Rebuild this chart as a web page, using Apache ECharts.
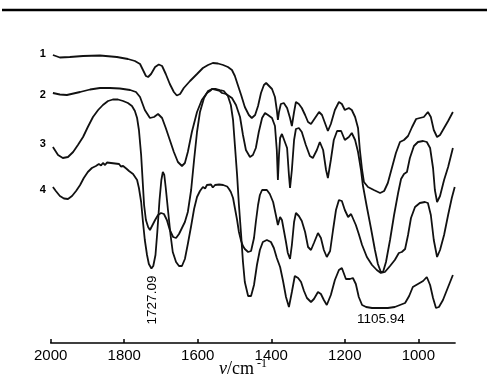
<!DOCTYPE html>
<html><head><meta charset="utf-8">
<script src="https://cdn.jsdelivr.net/npm/echarts@6/dist/echarts.min.js"></script>
<style>html,body{margin:0;padding:0;background:#fff}#c{width:492px;height:386px}</style>
</head><body><div id="c"></div>
<script>
const xTicks = [2000, 1800, 1600, 1400, 1200, 1000];
const seriesNames = ['1', '2', '3', '4'];

const curve1Wn = [1994,1975,1948,1912,1866,1820,1790,1771,1757,1749,1741,1735,1727,1716,1706,1697,1687,1676,1665,1657,1648,1638,1621,1602,1586,1572,1559,1545,1531,1518,1507,1499,1491,1482,1472,1461,1453,1444,1436,1428,1420,1414,1406,1398,1390,1385,1382,1379,1374,1366,1357,1349,1344,1338,1333,1325,1317,1308,1300,1292,1281,1270,1262,1254,1246,1238,1227,1216,1208,1200,1189,1181,1172,1164,1159,1153,1148,1137,1121,1104,1093,1083,1072,1061,1050,1039,1028,1017,1006,996,985,974,966,958,949,941,930,919,906];
const curve1T = [55,57.5,57,56,55.5,57,59,61,64,70,76,77,74,67,64.5,66,74,84,92,95.5,94,88,81,74,68,65,63,63.5,65,67,70,76,85,95,107,115,118,115,106,93,85,83,86,89,97,110,120,112,104,103,108,118,126,112,102,104,108,115,122,124,118,112,115,123,131,124,110,102,104,110,108,110,117,128,150,170,182,187,190,193,191,183,168,153,142,140,136,127,119,118,117,112,117,130,137,135,128,121,112];

const curve2Wn = [1994,1975,1956,1920,1893,1866,1839,1812,1784,1768,1757,1744,1730,1719,1708,1697,1687,1676,1665,1654,1643,1635,1627,1616,1602,1589,1575,1567,1561,1556,1550,1545,1540,1534,1529,1523,1518,1507,1496,1485,1477,1469,1458,1450,1442,1434,1425,1417,1409,1398,1390,1385,1382,1379,1376,1371,1366,1357,1352,1349,1344,1338,1333,1325,1317,1306,1295,1287,1276,1268,1259,1251,1246,1238,1230,1221,1210,1200,1189,1181,1172,1164,1156,1151,1140,1129,1118,1110,1102,1096,1088,1077,1066,1055,1047,1039,1031,1023,1012,1001,987,977,968,960,955,949,941,930,919,906];
const curve2T = [93,94.5,95,92,89.5,88,88,88.5,90,92,97,110,118,117,114,118,128,140,152,162,166,163,152,132,112,100,93,91,89,91,90,92,91,93,92,94,95,98,105,117,135,150,157,155,148,132,118,113,115,118,126,150,180,155,138,134,135,148,175,188,170,140,129,128,132,145,156,158,150,142,150,170,178,160,140,131,131,140,137,133,140,152,170,185,207,228,250,264,272,272,262,240,215,193,179,174,172,158,146,142,141,142,148,168,190,202,196,180,167,148];

const curve3Wn = [1994,1980,1967,1953,1939,1926,1912,1899,1885,1871,1858,1844,1831,1817,1803,1790,1779,1771,1765,1760,1754,1750,1746,1741,1735,1730,1725,1716,1708,1700,1692,1684,1676,1667,1659,1651,1643,1635,1627,1618,1610,1602,1594,1583,1572,1561,1550,1540,1529,1518,1510,1504,1499,1493,1488,1482,1477,1472,1463,1455,1447,1439,1431,1423,1412,1401,1393,1385,1376,1368,1360,1352,1344,1336,1327,1319,1311,1303,1292,1284,1273,1265,1257,1249,1238,1227,1216,1208,1197,1186,1178,1170,1162,1153,1142,1126,1104,1083,1064,1050,1036,1025,1015,1001,987,977,968,960,952,944,933,919,906];
const curve3T = [147,155,158,157,152,145,137,127,117,110,105,101,99.5,99.5,101,103,106,111,118,130,155,180,205,220,227,230,228,220,215,213,214,220,230,237,238,234,228,222,212,190,160,132,112,98,91,89,89,90,91,96,105,120,145,175,205,235,262,282,296,296,285,265,250,242,240,242,248,258,267,281,297,307,292,276,278,282,291,298,302,299,292,294,300,305,295,280,270,268,279,279,278,284,297,305,307,308,308,308,307,305,303,296,287,284,281,277,285,298,308,307,300,287,275];

const curve4Wn = [1994,1986,1975,1964,1953,1942,1931,1920,1910,1899,1888,1877,1869,1863,1858,1852,1847,1842,1836,1831,1825,1820,1814,1809,1803,1798,1793,1787,1782,1776,1771,1765,1760,1754,1749,1744,1738,1733,1726,1721,1715,1710,1704,1699,1695,1691,1687,1681,1674,1668,1659,1651,1643,1635,1627,1618,1610,1602,1594,1586,1580,1575,1570,1564,1559,1553,1548,1542,1537,1531,1526,1520,1515,1510,1504,1499,1493,1488,1482,1477,1472,1463,1455,1447,1442,1436,1431,1425,1420,1412,1404,1395,1387,1382,1376,1371,1366,1360,1355,1349,1344,1338,1333,1325,1317,1308,1300,1292,1284,1273,1265,1257,1249,1240,1232,1224,1216,1208,1200,1191,1183,1178,1170,1162,1153,1140,1126,1113,1102,1091,1077,1064,1053,1045,1036,1028,1020,1009,996,982,974,966,958,949,941,930,919,909,901];
const curve4T = [187,191,196,198.5,199,196,191,185,178,172,168,166,164,165.5,163,165,162.5,164.5,163,165,163.5,165.5,164,166.5,166,168,169,171,172,174,176,180,188,202,222,240,255,264,268.5,266,255,232,200,180,172,175,188,210,235,252,262,266,266,259,244,226,209,197,191,187,188.5,185,187,184.5,187.5,185,187,184.5,186.5,185,187,186.5,189,192,198,208,220,232,241,246,249,252,251,238,222,205,195,190,188,190,194,202,216,225,217,220,230,242,253,259,245,222,213,216,221,232,247,250,243,233,238,250,257,251,230,210,200,201,210,217,214,216,225,234,245,257,265,270,273,272,266,260,253,252,249,235,218,207,203,202,203,215,240,257,250,235,215,198,187];

const peakLabels = [
  {series: 3, text: '1727.09', wn: 1727.09, t: 297, rotate: 90, off: [-3, 1.5]},
  {series: 2, text: '1105.94', wn: 1105.94, t: 318, rotate: 0, off: [1.5, 1]}
];

const wnSets = [curve1Wn, curve2Wn, curve3Wn, curve4Wn];
const tSets = [curve1T, curve2T, curve3T, curve4T];
const nameOffsets = [[0,-1],[0,2],[0,-3],[0,3]];

const series = wnSets.map((wn, i) => {
  const data = wn.map((w, j) => [w, tSets[i][j]]);
  const mp = [{
    coord: data[0],
    label: {show: true, formatter: seriesNames[i], position: 'left', distance: 7,
      offset: nameOffsets[i], fontSize: 11, fontWeight: 'bold', color: '#000', fontFamily: 'Liberation Sans'}
  }];
  peakLabels.filter(p => p.series === i).forEach(p => {
    mp.push({coord: [p.wn, p.t], label: {show: true, formatter: p.text, position: 'inside',
      rotate: p.rotate, offset: p.off, fontSize: 13.5, color: '#000', fontFamily: 'Liberation Sans'}});
  });
  return {
    type: 'line', data, symbol: 'none', smooth: false,
    lineStyle: {color: '#111', width: 1.8},
    markPoint: {symbol: 'circle', symbolSize: 0, silent: true, data: mp},
    z: 2
  };
});

const chart = echarts.init(document.getElementById('c'), null, {renderer: 'canvas'});
chart.setOption({
  animation: false,
  backgroundColor: '#fff',
  grid: {left: 50.7, right: 36.9, top: 40, bottom: 43},
  xAxis: {
    type: 'value', min: 900, max: 2000, inverse: true,
    axisLine: {onZero: false, lineStyle: {color: '#000', width: 1.5}},
    axisTick: {inside: true, length: 4, customValues: xTicks, lineStyle: {color: '#000', width: 1.5}},
    axisLabel: {customValues: xTicks, fontSize: 15, color: '#000', fontFamily: 'Liberation Sans', margin: 5,
      formatter: v => String(v)},
    splitLine: {show: false},
    name: '{v|ν}{t|/cm}{s|-1}',
    nameLocation: 'middle', nameGap: 15, nameMoveOverlap: false,
    nameTextStyle: {
      padding: [0, 20, 0, 0],
      rich: {
        v: {fontFamily: 'Liberation Serif', fontStyle: 'italic', fontSize: 18, color: '#000', verticalAlign: 'bottom'},
        t: {fontFamily: 'Liberation Serif', fontSize: 18, color: '#000', verticalAlign: 'bottom'},
        s: {fontFamily: 'Liberation Serif', fontSize: 12, color: '#000', verticalAlign: 'bottom', padding: [0, 0, 8, 3]}
      }
    }
  },
  yAxis: {type: 'value', min: 40, max: 343, inverse: true, show: false},
  graphic: [{type: 'line', shape: {x1: 2, y1: 10, x2: 487, y2: 10}, style: {stroke: '#000', lineWidth: 2.5}}],
  series
});
</script></body></html>
